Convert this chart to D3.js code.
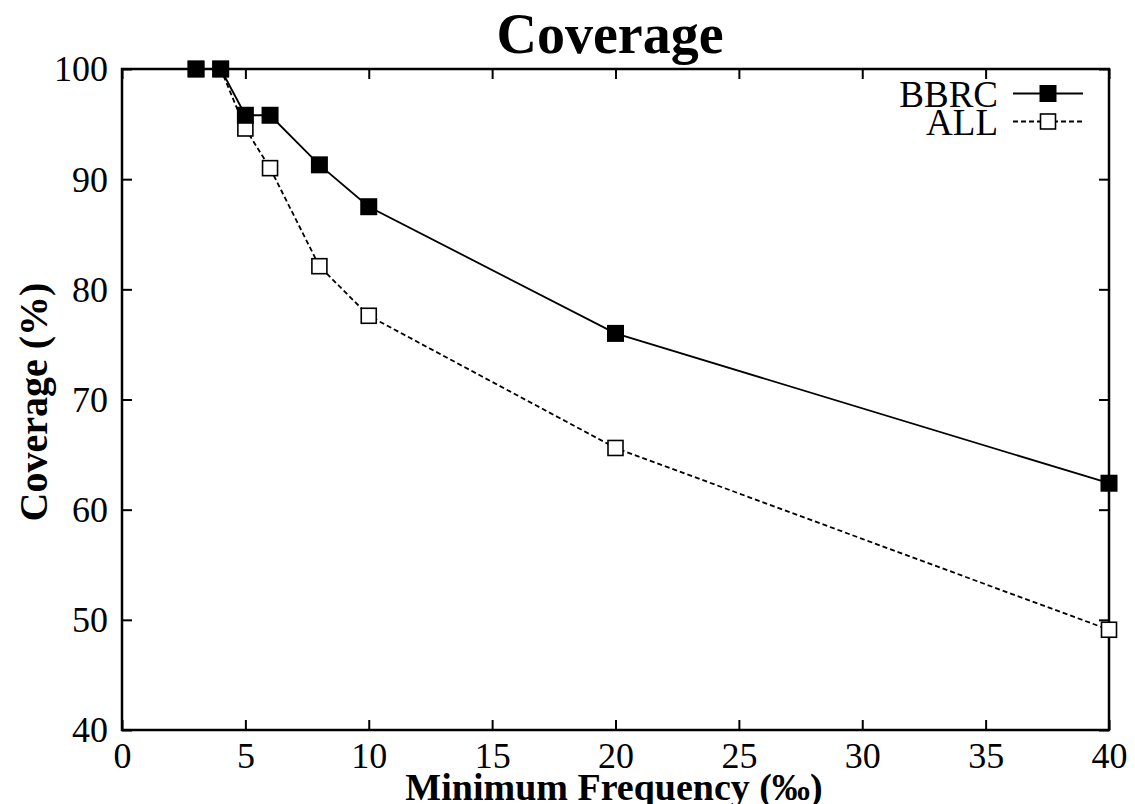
<!DOCTYPE html>
<html><head><meta charset="utf-8">
<script src="https://cdn.jsdelivr.net/npm/d3@7"></script>
<style>body{margin:0;background:#fff}svg{display:block}</style>
</head><body><svg id="c" width="1135" height="804" font-family="Liberation Serif, serif"></svg>
<script>
const freqs = [3, 4, 5, 6, 8, 10, 20, 40];
const bbrc = [100, 100, 95.8, 95.8, 91.3, 87.5, 76.0, 62.4];
const allv = [100, 100, 94.6, 91.0, 82.1, 77.6, 65.6, 49.1];
const xTicks = [0, 5, 10, 15, 20, 25, 30, 35, 40];
const yTicks = [40, 50, 60, 70, 80, 90, 100];
const seriesNames = ["BBRC", "ALL"];

const FONT = "Liberation Serif, serif";
const svg = d3.select("#c");
const L = 122, R = 1109, T = 69, B = 730;
const x = d3.scaleLinear().domain([0, 40]).range([L, R]);
const y = d3.scaleLinear().domain([40, 100]).range([B, T]);
const tick = 10;

// axes (inward ticks, mirrored)
const gB = svg.append("g").attr("transform", `translate(0,${B})`)
  .call(d3.axisBottom(x).tickValues(xTicks).tickSize(-tick).tickPadding(12).tickSizeOuter(0));
const gT = svg.append("g").attr("transform", `translate(0,${T})`)
  .call(d3.axisTop(x).tickValues(xTicks).tickSize(-tick).tickFormat("").tickSizeOuter(0));
const gL = svg.append("g").attr("transform", `translate(${L},0)`)
  .call(d3.axisLeft(y).tickValues(yTicks).tickSize(-tick).tickPadding(14).tickSizeOuter(0));
const gR = svg.append("g").attr("transform", `translate(${R},0)`)
  .call(d3.axisRight(y).tickValues(yTicks).tickSize(-tick).tickFormat("").tickSizeOuter(0));
[gB, gT, gL, gR].forEach(g => {
  g.attr("font-family", FONT).attr("font-size", 36);
  g.selectAll(".domain").remove();
  g.selectAll("line").attr("stroke", "#000").attr("stroke-width", 2);
  g.selectAll("text").attr("fill", "#000");
});
gB.selectAll("text").attr("dy", "0.71em");
gL.selectAll("text").attr("dy", "0.33em");

// border
svg.append("rect").attr("x", L).attr("y", T).attr("width", R - L).attr("height", B - T)
  .attr("fill", "none").attr("stroke", "#000").attr("stroke-width", 2.5);

// lines
const line = d3.line().x(d => x(d[0])).y(d => y(d[1]));
const dAll = freqs.map((f, i) => [f, allv[i]]);
const dB = freqs.map((f, i) => [f, bbrc[i]]);
svg.append("path").attr("d", line(dAll)).attr("fill", "none").attr("stroke", "#000")
  .attr("stroke-width", 1.8).attr("stroke-dasharray", "5,3");
svg.append("path").attr("d", line(dB)).attr("fill", "none").attr("stroke", "#000")
  .attr("stroke-width", 1.8);

const ms = 17, mo = 15;
svg.selectAll(".pa").data(dAll).enter().append("rect")
  .attr("x", d => x(d[0]) - mo / 2).attr("y", d => y(d[1]) - mo / 2)
  .attr("width", mo).attr("height", mo).attr("fill", "#fff").attr("stroke", "#000").attr("stroke-width", 1.6);
svg.selectAll(".pb").data(dB).enter().append("rect")
  .attr("x", d => x(d[0]) - ms / 2).attr("y", d => y(d[1]) - ms / 2)
  .attr("width", ms).attr("height", ms).attr("fill", "#000");

// legend
const legY = [93.5, 121.5];
seriesNames.forEach((n, i) => {
  svg.append("text").attr("x", 998).attr("y", legY[i]).attr("dy", "0.36em")
    .attr("text-anchor", "end").attr("font-size", 37).text(n);
  const ln = svg.append("line").attr("x1", 1013).attr("x2", 1083).attr("y1", legY[i]).attr("y2", legY[i])
    .attr("stroke", "#000").attr("stroke-width", 1.8);
  if (i === 1) ln.attr("stroke-dasharray", "5,3");
  if (i === 0) svg.append("rect").attr("x", 1048 - ms / 2).attr("y", legY[i] - ms / 2).attr("width", ms).attr("height", ms).attr("fill", "#000");
  else svg.append("rect").attr("x", 1048 - mo / 2).attr("y", legY[i] - mo / 2).attr("width", mo).attr("height", mo).attr("fill", "#fff").attr("stroke", "#000").attr("stroke-width", 1.6);
});

// title & labels
svg.append("text").attr("x", 610).attr("y", 53).attr("text-anchor", "middle")
  .attr("font-size", 56).attr("font-weight", "bold").text("Coverage");
svg.append("text").attr("x", 614).attr("y", 800).attr("text-anchor", "middle")
  .attr("font-size", 38).attr("font-weight", "bold").text("Minimum Frequency (‰)");
svg.append("text").attr("transform", "translate(47,402) rotate(-90)").attr("text-anchor", "middle")
  .attr("font-size", 40).attr("font-weight", "bold").text("Coverage (%)");
</script></body></html>
